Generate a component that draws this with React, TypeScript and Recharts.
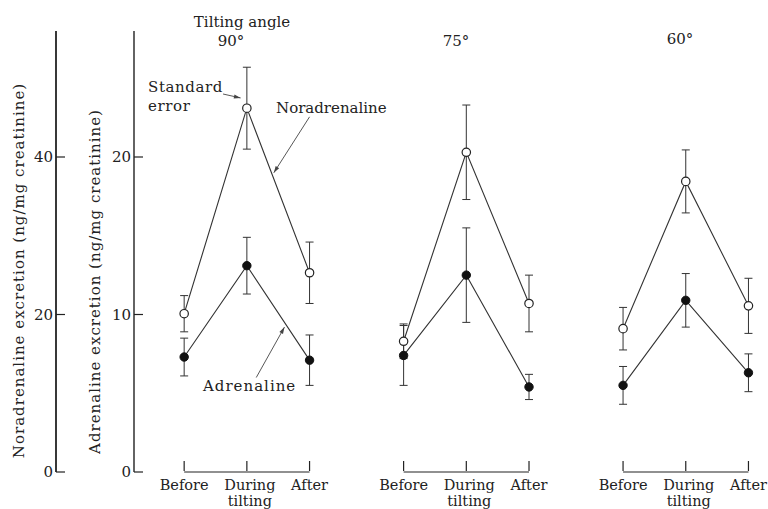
import React from 'react';
import { ComposedChart, Line, XAxis, YAxis, ErrorBar, ReferenceLine } from 'recharts';

const angles = ['90°', '75°', '60°'];
const phases = ['Before', 'During tilting', 'After'];

// mean and standard error, one row per tilting angle: before / during / after
const noradrenalineMean = [
  [20.1, 46.2, 25.3],
  [16.6, 40.6, 21.4],
  [18.2, 36.9, 21.1],
];
const noradrenalineSE = [
  [2.3, 5.2, 3.9],
  [2.2, 6.0, 3.6],
  [2.7, 4.0, 3.5],
];
const adrenalineMean = [
  [7.3, 13.1, 7.1],
  [7.4, 12.5, 5.4],
  [5.5, 10.9, 6.3],
];
const adrenalineSE = [
  [1.2, 1.8, 1.6],
  [1.9, 3.0, 0.8],
  [1.2, 1.7, 1.2],
];

const noradrenalineTicks = [0, 20, 40];
const adrenalineTicks = [0, 10, 20];

const FONT = '"DejaVu Serif", "Liberation Serif", serif';
const INK = '#222';
const PANEL_STEP = 3.5; // x slots between panels

const slot = (panel: number, phase: number) => panel * PANEL_STEP + phase;

const panels = angles.map((angle, i) => ({
  angle,
  noradrenaline: phases.map((_, j) => ({
    x: slot(i, j),
    value: noradrenalineMean[i][j],
    se: noradrenalineSE[i][j],
  })),
  adrenaline: phases.map((_, j) => ({
    x: slot(i, j),
    value: adrenalineMean[i][j],
    se: adrenalineSE[i][j],
  })),
}));

const xTicks = panels.flatMap((_, i) => phases.map((__, j) => slot(i, j)));

const PhaseTick = ({ x, y, payload }: any) => {
  const v = payload.value as number;
  const phase = Math.round(v - Math.floor(v / PANEL_STEP + 1e-6) * PANEL_STEP);
  const words = phases[phase].split(' ');
  return (
    <g>
      <line x1={x} x2={x} y1={y - 11} y2={y - 1} stroke={INK} strokeWidth={1.2} />
      {words.map((w, k) => (
        <text
          key={w}
          x={x + (phase === 1 ? 3 : 0)}
          y={y + 18 + k * 16}
          textAnchor="middle"
          fontFamily={FONT}
          fontSize={14.5}
          fill={INK}
        >
          {w}
        </text>
      ))}
    </g>
  );
};

const ValueTick = ({ x, y, payload }: any) => (
  <g>
    <text
      x={x}
      y={y}
      dy={5}
      textAnchor="end"
      fontFamily={FONT}
      fontSize={15}
      fill={INK}
    >
      {payload.value}
    </text>
    <line x1={x + 3} x2={x + 12} y1={y} y2={y} stroke={INK} strokeWidth={1.2} />
  </g>
);

const Arrow = (props: any) => {
  const { x1, y1, x2, y2 } = props;
  const a = Math.atan2(y2 - y1, x2 - x1);
  const len = 7;
  const s = 0.3;
  const p1 = `${x2 - len * Math.cos(a - s)},${y2 - len * Math.sin(a - s)}`;
  const p2 = `${x2 - len * Math.cos(a + s)},${y2 - len * Math.sin(a + s)}`;
  return (
    <g>
      <line x1={x1} y1={y1} x2={x2} y2={y2} stroke="#444" strokeWidth={0.9} />
      <path d={`M${x2},${y2}L${p1}L${p2}Z`} fill="#444" />
    </g>
  );
};

const axisLabel = (text: string, cx: number, dy: number) => (props: any) => {
  const vb = props.viewBox;
  const cy = vb.y + vb.height / 2 + dy;
  return (
    <text
      x={cx}
      y={cy}
      transform={`rotate(-90, ${cx}, ${cy})`}
      textAnchor="middle"
      dominantBaseline="central"
      fontFamily={FONT}
      fontSize={15}
      letterSpacing={1}
      fill={INK}
    >
      {text}
    </text>
  );
};

const textStyle = { fontFamily: FONT, fontSize: 15, fill: INK };

export default function App() {
  return (
    <div style={{ position: 'absolute', left: 0, top: 0, background: '#fff' }}>
      <ComposedChart
        width={768}
        height={509}
        margin={{ top: 31, right: 7, bottom: 0, left: 0 }}
      >
        <XAxis
          type="number"
          dataKey="x"
          domain={[-0.8, 9.2]}
          ticks={xTicks}
          interval={0}
          axisLine={false}
          tickLine={false}
          tickSize={0}
          tickMargin={0}
          height={37}
          tick={<PhaseTick />}
        />
        <YAxis
          yAxisId="adr"
          domain={[0, 28]}
          ticks={adrenalineTicks}
          width={78}
          tickSize={0}
          tickMargin={3}
          tickLine={false}
          axisLine={{ stroke: INK, strokeWidth: 1.4 }}
          tick={<ValueTick />}
          label={{
            content: axisLabel('Adrenaline excretion (ng/mg creatinine)', 95, 30),
          }}
        />
        <YAxis
          yAxisId="nor"
          domain={[0, 56]}
          ticks={noradrenalineTicks}
          width={56}
          tickSize={0}
          tickMargin={3}
          tickLine={false}
          axisLine={{ stroke: INK, strokeWidth: 1.8 }}
          tick={<ValueTick />}
          label={{
            content: axisLabel('Noradrenaline excretion (ng/mg creatinine)', 19, 19),
          }}
        />

        {panels.map((p, i) => (
          <ReferenceLine
            key={`base-${i}`}
            yAxisId="adr"
            segment={[
              { x: slot(i, 0), y: 0 },
              { x: slot(i, 2), y: 0 },
            ]}
            stroke={INK}
            strokeWidth={1.2}
          />
        ))}

        {panels.map((p, i) => (
          <Line
            key={`nor-${i}`}
            yAxisId="nor"
            data={p.noradrenaline}
            dataKey="value"
            stroke="#333"
            strokeWidth={1.1}
            dot={{ r: 4.2, fill: '#fff', stroke: INK, strokeWidth: 1.2 }}
            activeDot={false}
            isAnimationActive={false}
          >
            <ErrorBar dataKey="se" direction="y" width={4} stroke="#333" strokeWidth={1} />
          </Line>
        ))}
        {panels.map((p, i) => (
          <Line
            key={`adr-${i}`}
            yAxisId="adr"
            data={p.adrenaline}
            dataKey="value"
            stroke="#333"
            strokeWidth={1.1}
            dot={{ r: 4.2, fill: '#111', stroke: '#111', strokeWidth: 1 }}
            activeDot={false}
            isAnimationActive={false}
          >
            <ErrorBar dataKey="se" direction="y" width={4} stroke="#333" strokeWidth={1} />
          </Line>
        ))}

        {/* annotation arrows */}
        <ReferenceLine
          yAxisId="adr"
          segment={[
            { x: 0.62, y: 24.0 },
            { x: 0.9, y: 23.75 },
          ]}
          shape={Arrow}
        />
        <ReferenceLine
          yAxisId="adr"
          segment={[
            { x: 2.0, y: 22.55 },
            { x: 1.43, y: 19.0 },
          ]}
          shape={Arrow}
        />
        <ReferenceLine
          yAxisId="adr"
          segment={[
            { x: 1.15, y: 6.0 },
            { x: 1.6, y: 9.2 },
          ]}
          shape={Arrow}
        />

        <text x={242} y={27} textAnchor="middle" {...textStyle}>
          Tilting angle
        </text>
        <text x={231} y={46} textAnchor="middle" {...textStyle}>
          {angles[0]}
        </text>
        <text x={456} y={46} textAnchor="middle" {...textStyle}>
          {angles[1]}
        </text>
        <text x={680} y={44} textAnchor="middle" {...textStyle}>
          {angles[2]}
        </text>
        <text x={148} y={92} letterSpacing={0.6} {...textStyle}>
          Standard
        </text>
        <text x={148} y={111} letterSpacing={0.6} {...textStyle}>
          error
        </text>
        <text x={276} y={113} {...textStyle}>
          Noradrenaline
        </text>
        <text x={203} y={391} letterSpacing={1} {...textStyle}>
          Adrenaline
        </text>
      </ComposedChart>
    </div>
  );
}
